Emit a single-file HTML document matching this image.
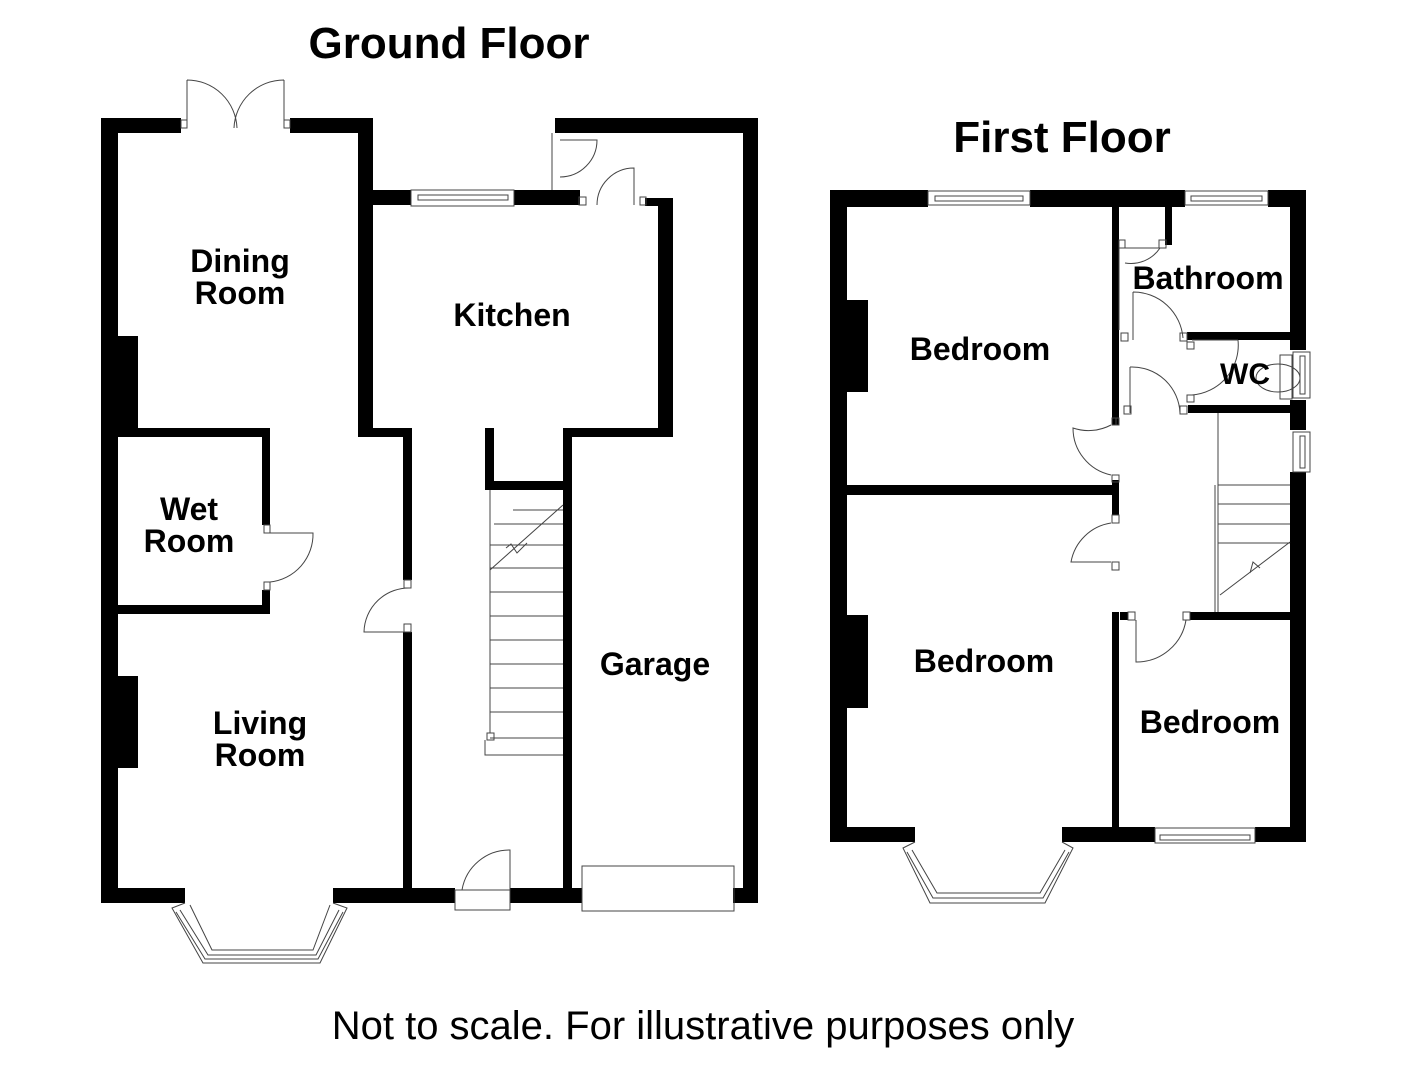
<!DOCTYPE html>
<html><head><meta charset="utf-8"><style>
html,body{margin:0;padding:0;background:#fff;}
svg{display:block;}
text{font-family:"Liberation Sans",Arial,sans-serif;fill:#000;}
.b{font-weight:bold;}
</style></head><body>
<svg width="1406" height="1080" viewBox="0 0 1406 1080" xmlns="http://www.w3.org/2000/svg">
<rect width="1406" height="1080" fill="#fff"/>
<g fill="#000">
<rect x="101" y="118" width="80" height="15"/>
<rect x="290" y="118" width="83" height="15"/>
<rect x="101" y="118" width="17" height="785"/>
<rect x="358" y="118" width="15" height="318"/>
<rect x="358" y="190" width="53" height="15"/>
<rect x="514" y="190" width="66" height="15"/>
<rect x="645" y="198" width="28" height="8"/>
<rect x="658" y="198" width="15" height="238"/>
<rect x="358" y="428" width="54" height="9"/>
<rect x="403" y="428" width="9" height="152"/>
<rect x="403" y="632" width="9" height="260"/>
<rect x="485" y="428" width="9" height="62"/>
<rect x="485" y="481" width="85" height="9"/>
<rect x="563" y="428" width="110" height="9"/>
<rect x="563" y="428" width="9" height="462"/>
<rect x="555" y="118" width="203" height="15"/>
<rect x="743" y="118" width="15" height="785"/>
<rect x="101" y="888" width="84" height="15"/>
<rect x="333" y="888" width="122" height="15"/>
<rect x="510" y="888" width="72" height="15"/>
<rect x="733" y="888" width="25" height="15"/>
<rect x="118" y="428" width="152" height="9"/>
<rect x="262" y="428" width="8" height="97"/>
<rect x="262" y="590" width="8" height="24"/>
<rect x="118" y="605" width="152" height="9"/>
<rect x="118" y="336" width="20" height="92"/>
<rect x="118" y="676" width="20" height="92"/>
<rect x="830" y="190" width="98" height="17"/>
<rect x="1030" y="190" width="155" height="17"/>
<rect x="1268" y="190" width="38" height="17"/>
<rect x="830" y="190" width="17" height="652"/>
<rect x="1290" y="190" width="16" height="160"/>
<rect x="1290" y="400" width="16" height="30"/>
<rect x="1290" y="472" width="16" height="370"/>
<rect x="830" y="827" width="85" height="15"/>
<rect x="1062" y="827" width="93" height="15"/>
<rect x="1255" y="827" width="51" height="15"/>
<rect x="847" y="485" width="271" height="10"/>
<rect x="1112" y="207" width="7" height="218"/>
<rect x="1112" y="480" width="7" height="35"/>
<rect x="1112" y="612" width="7" height="215"/>
<rect x="1165" y="207" width="7" height="38"/>
<rect x="1187" y="332" width="103" height="8"/>
<rect x="1188" y="405" width="102" height="8"/>
<rect x="1120" y="612" width="8" height="8"/>
<rect x="1190" y="612" width="100" height="8"/>
<rect x="847" y="300" width="21" height="92"/>
<rect x="847" y="615" width="21" height="93"/>
</g>
<g fill="none" stroke="#444" stroke-width="1">
<rect x="181" y="120" width="6" height="8"/><rect x="284" y="120" width="6" height="8"/>
<path d="M187 80 V128 M187 80 A50 50 0 0 1 237 128 M284 80 V128 M284 80 A50 50 0 0 0 234 128"/>
<rect x="411" y="190" width="103" height="16"/><rect x="418" y="195" width="90" height="5"/>
<path d="M552 133 V190 M560 140 H597 A37 37 0 0 1 560 177 M597 205 A37 37 0 0 1 634 168 V205"/>
<rect x="579" y="197" width="7" height="8"/><rect x="640" y="197" width="6" height="8"/>
<rect x="264" y="525" width="6" height="8"/><rect x="264" y="582" width="6" height="8"/>
<path d="M270 533 H313 A48 48 0 0 1 270 582"/>
<rect x="404" y="580" width="7" height="8"/><rect x="404" y="624" width="7" height="8"/>
<path d="M411 588 A45 45 0 0 0 364 632 H411"/>
<path d="M455 890 H510 V910 H455 Z M462 890 A48 48 0 0 1 510 850 V890"/>
<rect x="582" y="866" width="152" height="45"/>
<path d="M490 490 V733 M563 545 H490 M487 733 H494 V740 H487 Z M485 740 V755 H563"/>
<path d="M490 570 L563 505 M506 548 L511 544 L517 553 L527 543"/>
<path d="M490 568 H563 M490 592 H563 M490 616 H563 M490 640 H563 M490 664 H563 M490 688 H563 M490 712 H563 M490 738 H563 M494 524 H563 M513 510 H563"/>
<path d="M185 903 L172 908 L203 963 L320 963 L347 908 L333 903"/>
<path d="M176 912 L205 959 L318 959 L343 912 M180 910 L208 955 L316 955 L339 910 M190 905 L212 950 L313 950 L330 905"/>
<rect x="928" y="191" width="102" height="14"/><rect x="935" y="196" width="88" height="5"/>
<rect x="1185" y="191" width="83" height="14"/><rect x="1191" y="196" width="71" height="5"/>
<rect x="1155" y="828" width="100" height="15"/><rect x="1160" y="835" width="90" height="5"/>
<rect x="1293" y="352" width="17" height="46"/><rect x="1300" y="356" width="5" height="38"/>
<rect x="1293" y="432" width="17" height="40"/><rect x="1300" y="436" width="5" height="32"/>
<path d="M915 842 L903 848 L930 903 L1045 903 L1073 848 L1062 842"/>
<path d="M907 852 L933 898 L1043 898 L1069 852 M912 850 L937 893 L1040 893 L1065 850"/>
<path d="M1119 240 V330 M1125 248 H1160 A35 35 0 0 1 1125 263"/>
<rect x="1119" y="240" width="6" height="8"/><rect x="1159" y="240" width="7" height="8"/>
<path d="M1133 292 A50 50 0 0 1 1183 338 M1133 292 V340"/>
<rect x="1121" y="333" width="7" height="8"/><rect x="1180" y="333" width="7" height="8"/>
<path d="M1192 340 H1238 M1238 340 A50 50 0 0 1 1192 395"/>
<rect x="1187" y="342" width="7" height="7"/><rect x="1187" y="395" width="7" height="7"/>
<path d="M1130 367 A48 48 0 0 1 1180 413 M1130 367 V413"/>
<rect x="1124" y="406" width="7" height="8"/><rect x="1180" y="406" width="7" height="8"/>
<path d="M1116 418 V425 M1111 425 A48 48 0 0 1 1073 428 A48 48 0 0 0 1111 475"/>
<rect x="1112" y="418" width="7" height="7"/><rect x="1112" y="475" width="7" height="7"/>
<path d="M1111 523 A48 48 0 0 0 1071 562 H1111"/>
<rect x="1112" y="515" width="7" height="8"/><rect x="1112" y="562" width="7" height="8"/>
<path d="M1136 620 V662 A50 50 0 0 0 1186 620"/>
<rect x="1128" y="612" width="7" height="8"/><rect x="1183" y="612" width="7" height="8"/>
<ellipse cx="1278" cy="378" rx="22" ry="14"/><rect x="1280" y="355" width="12" height="44"/>
<path d="M1218 413 V612 M1215 485 V612 M1218 485 H1290 M1218 504 H1290 M1218 524 H1290 M1218 543 H1290 M1220 595 L1290 542 M1250 573 L1253 562 L1260 568"/>
</g>
<text x="449" y="58" text-anchor="middle" class="b" font-size="44">Ground Floor</text>
<text x="1062" y="152" text-anchor="middle" class="b" font-size="44">First Floor</text>
<g class="b" font-size="32" text-anchor="middle">
<text x="240" y="272">Dining</text><text x="240" y="304">Room</text>
<text x="512" y="326">Kitchen</text>
<text x="189" y="520">Wet</text><text x="189" y="552">Room</text>
<text x="260" y="734">Living</text><text x="260" y="766">Room</text>
<text x="655" y="675">Garage</text>
<text x="980" y="360">Bedroom</text>
<text x="1208" y="289">Bathroom</text>
<text x="1245" y="384" font-size="30">WC</text>
<text x="984" y="672">Bedroom</text>
<text x="1210" y="733">Bedroom</text>
</g>
<text x="703" y="1039" text-anchor="middle" font-size="40">Not to scale. For illustrative purposes only</text>
</svg>
</body></html>
